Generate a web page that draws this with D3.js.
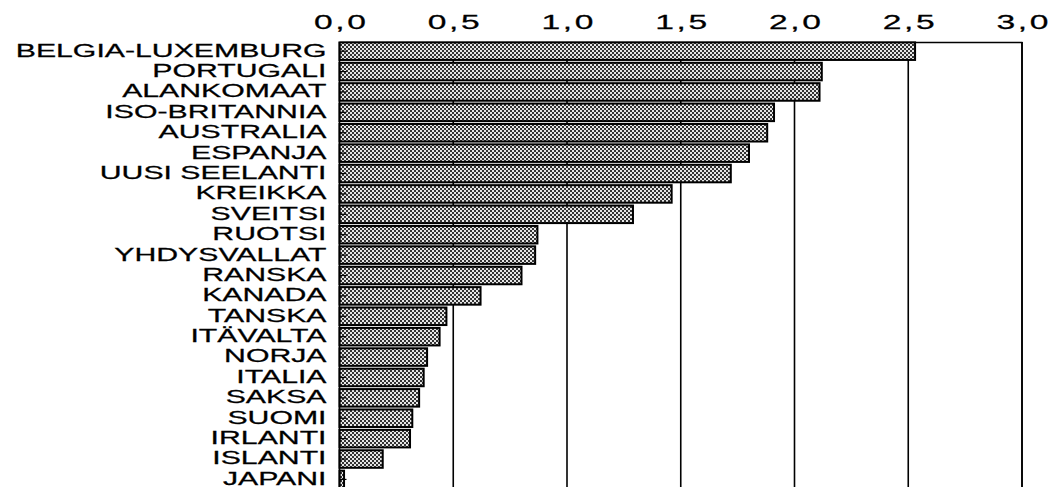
<!DOCTYPE html>
<html>
<head>
<meta charset="utf-8">
<script src="https://cdn.jsdelivr.net/npm/d3@7"></script>
<style>
  body { margin: 0; background: #fff; }
  svg { display: block; }
</style>
</head>
<body>
<script>
var countries = ['BELGIA-LUXEMBURG', 'PORTUGALI', 'ALANKOMAAT', 'ISO-BRITANNIA', 'AUSTRALIA',
    'ESPANJA', 'UUSI SEELANTI', 'KREIKKA', 'SVEITSI', 'RUOTSI', 'YHDYSVALLAT', 'RANSKA',
    'KANADA', 'TANSKA', 'ITÄVALTA', 'NORJA', 'ITALIA', 'SAKSA', 'SUOMI', 'IRLANTI',
    'ISLANTI', 'JAPANI'];
var values = [2.53, 2.12, 2.11, 1.91, 1.88, 1.80, 1.72, 1.46, 1.29, 0.87, 0.86, 0.80,
    0.62, 0.47, 0.44, 0.385, 0.37, 0.35, 0.32, 0.31, 0.19, 0.02];
var ticks = [0, 0.5, 1.0, 1.5, 2.0, 2.5, 3.0];

var w = 1056, h = 487;
var plotLeft = 339.5, plotRight = 1022, plotTop = 42, rowH = 20.3;
var sx = 1.68;

var svg = d3.select('body').append('svg')
    .attr('width', w)
    .attr('height', h);

// stipple fill of the bars
var pat = svg.append('defs').append('pattern')
    .attr('id', 'dots')
    .attr('patternUnits', 'userSpaceOnUse')
    .attr('width', 4)
    .attr('height', 4);
pat.append('rect').attr('width', 4).attr('height', 4).attr('fill', '#e6e6e6');
pat.append('rect').attr('width', 2).attr('height', 2).attr('fill', '#333');
pat.append('rect').attr('x', 2).attr('y', 2).attr('width', 2).attr('height', 2).attr('fill', '#333');

var x = d3.scaleLinear().domain([0, 3]).range([plotLeft, plotRight]);
var plotBottom = plotTop + rowH * countries.length;
var y = d3.scaleBand()
    .domain(countries)
    .range([plotTop, plotBottom])
    .paddingInner(0.14)
    .paddingOuter(0.02);

// grid lines
svg.append('g').selectAll('line')
    .data(ticks.slice(1))
    .enter()
    .append('line')
    .attr('x1', function (d) { return x(d); })
    .attr('x2', function (d) { return x(d); })
    .attr('y1', plotTop)
    .attr('y2', plotBottom)
    .attr('stroke', '#000')
    .attr('stroke-width', 1.6);

// top axis
var xAxis = svg.append('g')
    .attr('transform', 'translate(0,' + plotTop + ')')
    .call(d3.axisTop(x)
        .tickValues(ticks)
        .tickSize(0)
        .tickPadding(13)
        .tickFormat(function (d) { return d.toFixed(1).replace('.', ','); }));
xAxis.select('.domain').attr('stroke', '#000').attr('stroke-width', 1.6);
xAxis.selectAll('text')
    .attr('font-family', 'Liberation Sans, Arial, sans-serif')
    .attr('font-size', 20)
    .attr('letter-spacing', 1.6)
    .attr('fill', '#000')
    .attr('stroke', '#000')
    .attr('stroke-width', 0.25)
    .attr('transform', 'scale(' + sx + ',1)')
    .attr('dx', 0.8);

// bars
svg.append('g').selectAll('rect')
    .data(values)
    .enter()
    .append('rect')
    .attr('x', x(0))
    .attr('y', function (d, i) { return y(countries[i]); })
    .attr('width', function (d) { return x(d) - x(0); })
    .attr('height', y.bandwidth())
    .attr('fill', 'url(#dots)')
    .attr('stroke', '#000')
    .attr('stroke-width', 2);

// left axis with inward ticks
var yAxis = svg.append('g')
    .attr('transform', 'translate(' + plotLeft + ',0)')
    .call(d3.axisLeft(y).tickSizeInner(-7).tickSizeOuter(0).tickPadding(13));
yAxis.select('.domain').attr('stroke', '#000').attr('stroke-width', 1.6)
    .attr('d', 'M0,' + plotTop + 'V' + plotBottom);
yAxis.selectAll('.tick line').attr('stroke', '#000').attr('stroke-width', 1.2);
yAxis.selectAll('text')
    .attr('font-family', 'Liberation Sans, Arial, sans-serif')
    .attr('font-size', 18)
    .attr('fill', '#000')
    .attr('stroke', '#000')
    .attr('stroke-width', 0.25)
    .attr('dy', '0.3em')
    .attr('x', -13 / sx)
    .attr('transform', 'scale(' + sx + ',1)');

// right border
svg.append('line')
    .attr('x1', plotRight).attr('x2', plotRight)
    .attr('y1', plotTop).attr('y2', plotBottom)
    .attr('stroke', '#000')
    .attr('stroke-width', 1.6);
</script>
</body>
</html>
